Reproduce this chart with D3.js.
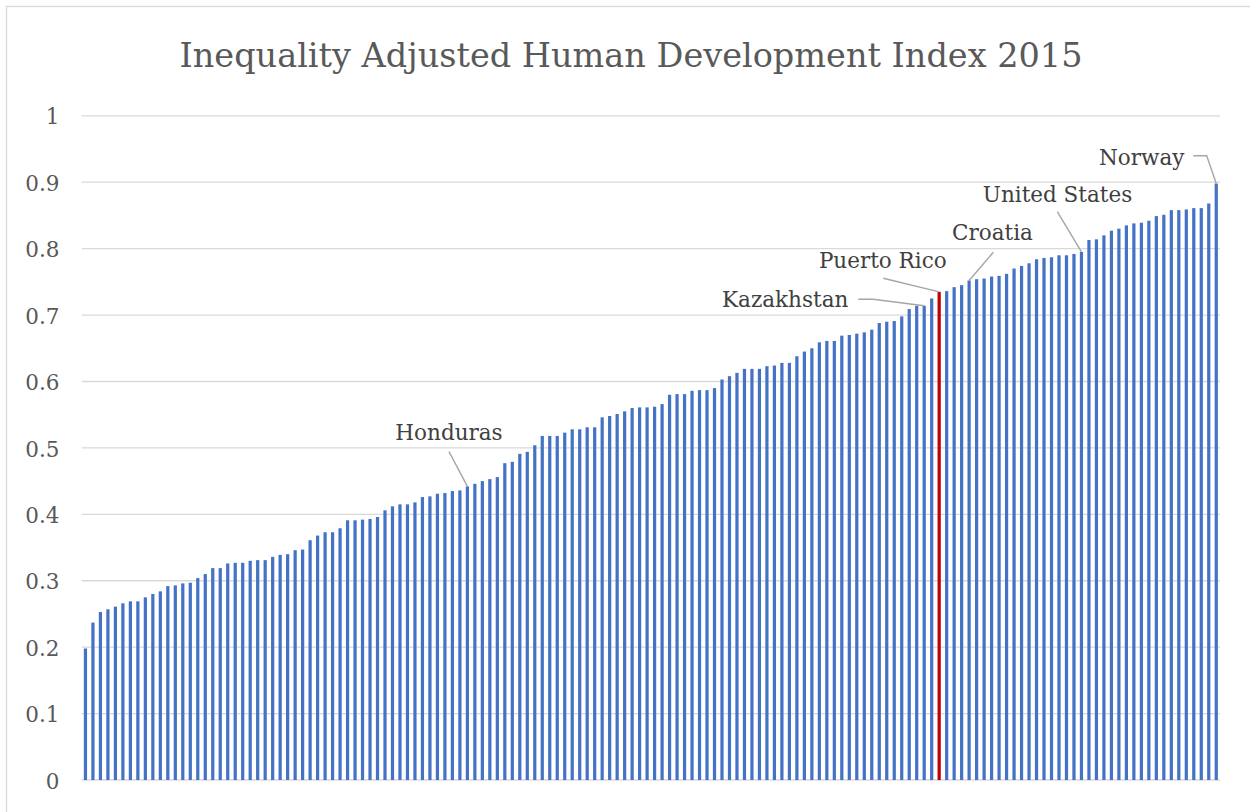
<!DOCTYPE html>
<html>
<head>
<meta charset="utf-8">
<script src="https://cdn.jsdelivr.net/npm/d3@7"></script>
<style>
  html, body { margin: 0; padding: 0; background: #fff; }
  svg { display: block; }
</style>
</head>
<body>
<svg id="chart" width="1250" height="812"></svg>
<script>
// ---------- data ----------
const chartTitle = "Inequality Adjusted Human Development Index 2015";
const yTicks = [0, 0.1, 0.2, 0.3, 0.4, 0.5, 0.6, 0.7, 0.8, 0.9, 1];
const yTickLabels = ["0", "0.1", "0.2", "0.3", "0.4", "0.5", "0.6", "0.7", "0.8", "0.9", "1"];
const values = [
  0.198, 0.237, 0.253, 0.257, 0.261, 0.266, 0.269, 0.269, 0.275, 0.280,
  0.284, 0.292, 0.293, 0.296, 0.297, 0.304, 0.310, 0.319, 0.319, 0.326,
  0.327, 0.327, 0.330, 0.331, 0.331, 0.336, 0.339, 0.340, 0.346, 0.347,
  0.361, 0.368, 0.373, 0.373, 0.379, 0.391, 0.391, 0.392, 0.393, 0.396,
  0.406, 0.412, 0.415, 0.415, 0.418, 0.426, 0.427, 0.431, 0.432, 0.435,
  0.436, 0.442, 0.446, 0.450, 0.453, 0.456, 0.477, 0.479, 0.491, 0.494,
  0.504, 0.518, 0.518, 0.518, 0.523, 0.528, 0.528, 0.531, 0.531, 0.546,
  0.548, 0.551, 0.555, 0.560, 0.561, 0.561, 0.562, 0.566, 0.580, 0.581,
  0.581, 0.586, 0.587, 0.587, 0.590, 0.603, 0.608, 0.613, 0.619, 0.619,
  0.619, 0.623, 0.624, 0.628, 0.628, 0.638, 0.645, 0.650, 0.659, 0.661,
  0.661, 0.669, 0.670, 0.672, 0.674, 0.678, 0.688, 0.690, 0.691, 0.698,
  0.709, 0.714, 0.714, 0.725, 0.735, 0.736, 0.742, 0.745, 0.752, 0.754,
  0.755, 0.758, 0.759, 0.762, 0.770, 0.774, 0.778, 0.784, 0.786, 0.787,
  0.790, 0.790, 0.792, 0.795, 0.813, 0.814, 0.820, 0.827, 0.830, 0.835,
  0.838, 0.839, 0.842, 0.849, 0.851, 0.858, 0.858, 0.859, 0.861, 0.861,
  0.868, 0.898
];
// categories: rank position of each country (ascending IHDI)
const categories = values.map((v, i) => i + 1);
const highlightRank = 115;                 // Puerto Rico
const labelNames = ["Honduras", "Kazakhstan", "Puerto Rico", "Croatia", "United States", "Norway"];
const labelRanks = [52, 113, 115, 119, 134, 152];

// ---------- layout / style ----------
const W = 1250, H = 812;
const plot = { left: 81.7, right: 1220, top: 115.8, bottom: 780 };
const blue = "#4472C4", red = "#C00000", gridCol = "#d9d9d9", textCol = "#595959", leaderCol = "#a6a6a6";
const serif = "'DejaVu Serif', serif";
// label text centres/baselines and leader start points (pixels)
const labelLayout = {
  "Honduras":      { cx: 449,    by: 440,   path: [[449, 451.7]] },
  "Kazakhstan":    { cx: 785.2,  by: 307.3, path: [[858.3, 299.3], [873, 299.3]] },
  "Puerto Rico":   { cx: 882.8,  by: 268.3, path: [[883.3, 278.3]] },
  "Croatia":       { cx: 992.5,  by: 240,   path: [[993.3, 252.3]] },
  "United States": { cx: 1057.5, by: 201.7, path: [[1057.3, 211.7]] },
  "Norway":        { cx: 1141.7, by: 165,   path: [[1193.3, 155.7], [1206.7, 155.7]] }
};

const svg = d3.select("#chart");

// outer chart border (only top/left visible in the frame)
svg.append("rect")
  .attr("x", 6.5).attr("y", 6.5).attr("width", 1300).attr("height", 900)
  .attr("fill", "#fff").attr("stroke", gridCol).attr("stroke-width", 1.3);

const x = d3.scaleBand()
  .domain(categories)
  .range([plot.left, plot.right])
  .paddingInner(0.57)
  .paddingOuter(0.285);

const y = d3.scaleLinear().domain([0, 1]).range([plot.bottom, plot.top]);

// gridlines
svg.append("g").selectAll("line").data(yTicks).join("line")
  .attr("x1", plot.left).attr("x2", plot.right)
  .attr("y1", d => y(d)).attr("y2", d => y(d))
  .attr("stroke", gridCol).attr("stroke-width", 1.3);

// y axis labels via d3 axis
const yAxis = d3.axisLeft(y).tickValues(yTicks)
  .tickFormat((d, i) => yTickLabels[i]).tickSize(0).tickPadding(0);
const gy = svg.append("g").attr("transform", `translate(${59.5},0)`).call(yAxis);
gy.select(".domain").remove();
gy.selectAll("text")
  .attr("fill", textCol)
  .attr("font-family", serif)
  .attr("font-size", 21.5)
  .attr("dy", "0.38em");

// bars
svg.append("g").selectAll("rect").data(values).join("rect")
  .attr("x", (d, i) => x(categories[i]))
  .attr("width", x.bandwidth())
  .attr("y", d => y(d))
  .attr("height", d => y(0) - y(d))
  .attr("fill", (d, i) => categories[i] === highlightRank ? red : blue);

// title
const title = svg.append("text")
  .attr("x", 631).attr("y", 66.7)
  .attr("text-anchor", "middle")
  .attr("font-family", serif)
  .attr("font-size", 34)
  .attr("fill", textCol)
  .text(chartTitle);
// fit title width to the reference extent
const tw = title.node().getComputedTextLength();
title.attr("font-size", 34 * Math.min(1.15, Math.max(0.8, 903 / tw)));

// annotations
const gA = svg.append("g");
labelNames.forEach((name, k) => {
  const rank = labelRanks[k];
  const L = labelLayout[name];
  const end = [x(rank) + x.bandwidth() / 2, y(values[rank - 1])];
  const pts = L.path.concat([end]);
  gA.append("path")
    .attr("d", d3.line()(pts))
    .attr("fill", "none")
    .attr("stroke", leaderCol)
    .attr("stroke-width", 1.4);
  gA.append("text")
    .attr("x", L.cx).attr("y", L.by)
    .attr("text-anchor", "middle")
    .attr("font-family", serif)
    .attr("font-size", 21.5)
    .attr("fill", "#404040")
    .text(name);
});
</script>
</body>
</html>
